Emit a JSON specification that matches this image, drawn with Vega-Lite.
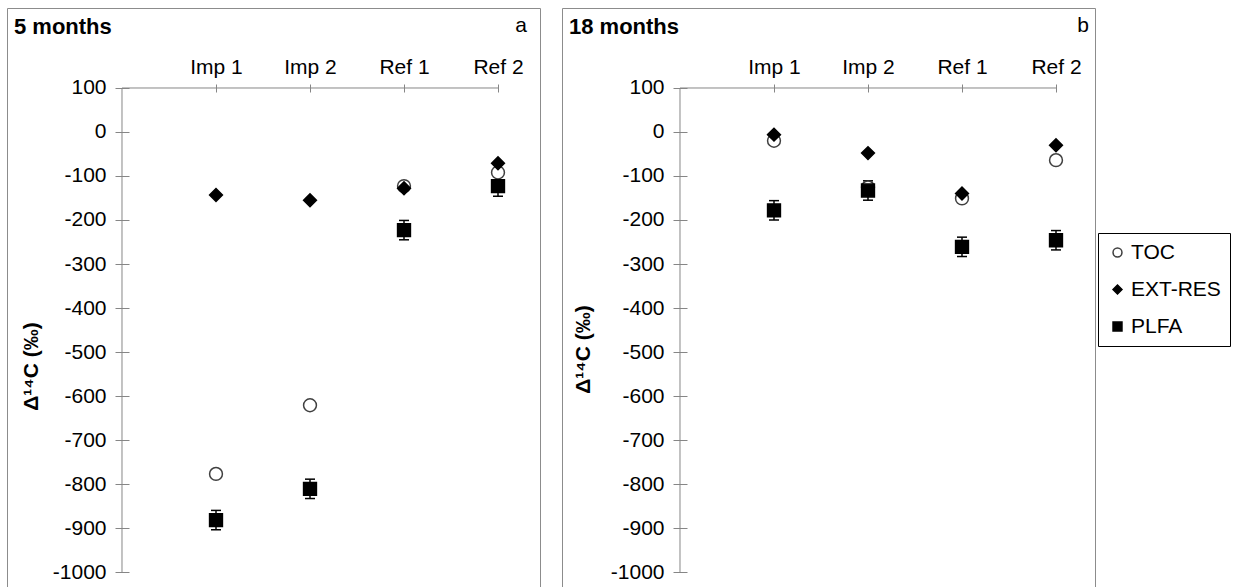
{
  "$schema": "https://vega.github.io/schema/vega-lite/v6.json",
  "padding": {"left": 6, "top": 7, "right": 0, "bottom": 0},
  "background": "white",
  "spacing": 20,
  "resolve": {"scale": {"x": "independent", "y": "independent", "shape": "shared", "fill": "shared", "stroke": "shared"}},
  "config": {
    "font": "Liberation Sans",
    "view": {"stroke": "#8c8c8c", "strokeWidth": 1},
    "axis": {"grid": false, "domain": false, "labelFont": "Liberation Sans", "labelColor": "black", "labelFontSize": 21, "tickColor": "#868686", "tickWidth": 1}
  },
  "datasets": {
    "pts": [
      {"panel": "a", "site": "Imp 1", "pos": 1, "series": "TOC", "value": -777},
      {"panel": "a", "site": "Imp 2", "pos": 2, "series": "TOC", "value": -621},
      {"panel": "a", "site": "Ref 1", "pos": 3, "series": "TOC", "value": -123},
      {"panel": "a", "site": "Ref 2", "pos": 4, "series": "TOC", "value": -92},
      {"panel": "a", "site": "Imp 1", "pos": 1, "series": "EXT-RES", "value": -143},
      {"panel": "a", "site": "Imp 2", "pos": 2, "series": "EXT-RES", "value": -155},
      {"panel": "a", "site": "Ref 1", "pos": 3, "series": "EXT-RES", "value": -128},
      {"panel": "a", "site": "Ref 2", "pos": 4, "series": "EXT-RES", "value": -71},
      {"panel": "a", "site": "Imp 1", "pos": 1, "series": "PLFA", "value": -882, "lo": -904, "hi": -860},
      {"panel": "a", "site": "Imp 2", "pos": 2, "series": "PLFA", "value": -811, "lo": -833, "hi": -789},
      {"panel": "a", "site": "Ref 1", "pos": 3, "series": "PLFA", "value": -223, "lo": -245, "hi": -201},
      {"panel": "a", "site": "Ref 2", "pos": 4, "series": "PLFA", "value": -123, "lo": -146, "hi": -100},
      {"panel": "b", "site": "Imp 1", "pos": 1, "series": "TOC", "value": -20},
      {"panel": "b", "site": "Imp 2", "pos": 2, "series": "TOC", "value": -126},
      {"panel": "b", "site": "Ref 1", "pos": 3, "series": "TOC", "value": -151},
      {"panel": "b", "site": "Ref 2", "pos": 4, "series": "TOC", "value": -64},
      {"panel": "b", "site": "Imp 1", "pos": 1, "series": "EXT-RES", "value": -6},
      {"panel": "b", "site": "Imp 2", "pos": 2, "series": "EXT-RES", "value": -48},
      {"panel": "b", "site": "Ref 1", "pos": 3, "series": "EXT-RES", "value": -140},
      {"panel": "b", "site": "Ref 2", "pos": 4, "series": "EXT-RES", "value": -30},
      {"panel": "b", "site": "Imp 1", "pos": 1, "series": "PLFA", "value": -178, "lo": -200, "hi": -156},
      {"panel": "b", "site": "Imp 2", "pos": 2, "series": "PLFA", "value": -133, "lo": -155, "hi": -111},
      {"panel": "b", "site": "Ref 1", "pos": 3, "series": "PLFA", "value": -261, "lo": -283, "hi": -239},
      {"panel": "b", "site": "Ref 2", "pos": 4, "series": "PLFA", "value": -246, "lo": -268, "hi": -224}
    ],
    "axislines": [
      {"x": 0, "x2": 4, "y": 100, "y2": 100},
      {"x": 0, "x2": 0, "y": -1000, "y2": 100}
    ]
  },
  "hconcat": [
    {
      "width": 533,
      "height": 585,
      "title": {"text": "5 months", "anchor": "start", "frame": "group", "orient": "top", "offset": -31, "dx": 7, "fontSize": 22, "fontWeight": "bold", "font": "Liberation Sans", "color": "black"},
      "layer": [
        {
          "data": {"name": "axislines"},
          "mark": {"type": "rule", "color": "#868686", "strokeWidth": 1},
          "encoding": {
            "x": {"field": "x", "type": "quantitative", "scale": {"domain": [-1.2234, 4.4468], "nice": false, "zero": false},
              "axis": {"orient": "top", "offset": -84, "values": [1, 2, 3, 4], "tickSize": 8, "labelPadding": 7, "title": null,
                "labelExpr": "['', 'Imp 1', 'Imp 2', 'Ref 1', 'Ref 2'][datum.value]"}},
            "x2": {"field": "x2"},
            "y": {"field": "y", "type": "quantitative", "scale": {"domain": [-1047.7, 281.8], "nice": false, "zero": false},
              "axis": {"orient": "left", "offset": -122, "values": [-1000, -900, -800, -700, -600, -500, -400, -300, -200, -100, 0, 100], "tickSize": 14, "labelPadding": 9,
                "labelExpr": "'' + datum.value",
                "title": "Δ¹⁴C (‰)", "titleFontSize": 21, "titleFontWeight": "bold", "titleColor": "black", "titleX": -98, "titleY": 358, "titleAngle": -90, "titleAlign": "center", "titleBaseline": "middle"}},
            "y2": {"field": "y2"}
          }
        },
        {
          "data": {"name": "pts"},
          "transform": [{"filter": "datum.panel === 'a' && datum.series === 'PLFA'"}],
          "mark": {"type": "rule", "color": "black", "strokeWidth": 1.5},
          "encoding": {
            "x": {"field": "pos", "type": "quantitative"},
            "y": {"field": "lo", "type": "quantitative"},
            "y2": {"field": "hi"}
          }
        },
        {
          "data": {"name": "pts"},
          "transform": [{"filter": "datum.panel === 'a' && datum.series === 'PLFA'"}],
          "mark": {"type": "point", "shape": "stroke", "size": 100, "stroke": "black", "strokeWidth": 1.5, "opacity": 1},
          "encoding": {
            "x": {"field": "pos", "type": "quantitative"},
            "y": {"field": "lo", "type": "quantitative"}
          }
        },
        {
          "data": {"name": "pts"},
          "transform": [{"filter": "datum.panel === 'a' && datum.series === 'PLFA'"}],
          "mark": {"type": "point", "shape": "stroke", "size": 100, "stroke": "black", "strokeWidth": 1.5, "opacity": 1},
          "encoding": {
            "x": {"field": "pos", "type": "quantitative"},
            "y": {"field": "hi", "type": "quantitative"}
          }
        },
        {
          "data": {"name": "pts"},
          "transform": [{"filter": "datum.panel === 'a'"}],
          "mark": {"type": "point", "opacity": 1, "size": 165, "strokeWidth": 1.5},
          "encoding": {
            "x": {"field": "pos", "type": "quantitative"},
            "y": {"field": "value", "type": "quantitative"},
            "shape": {"field": "series", "type": "nominal", "scale": {"domain": ["TOC", "EXT-RES", "PLFA"], "range": ["circle", "diamond", "square"]},
              "legend": {"orient": "none", "legendX": 1091, "legendY": 225, "title": null, "strokeColor": "black", "fillColor": "white", "padding": 9, "rowPadding": 15, "labelFontSize": 21, "labelColor": "black", "labelFont": "Liberation Sans", "symbolSize": 80, "symbolStrokeWidth": 1.5, "labelOffset": 3}},
            "fill": {"field": "series", "type": "nominal", "scale": {"domain": ["TOC", "EXT-RES", "PLFA"], "range": ["white", "black", "black"]}},
            "stroke": {"field": "series", "type": "nominal", "scale": {"domain": ["TOC", "EXT-RES", "PLFA"], "range": ["#404040", "black", "black"]}}
          }
        },
        {
          "data": {"values": [{"x": 4.245, "y": 241, "label": "a"}]},
          "mark": {"type": "text", "fontSize": 21, "color": "black", "align": "center", "baseline": "middle"},
          "encoding": {
            "x": {"field": "x", "type": "quantitative"},
            "y": {"field": "y", "type": "quantitative"},
            "text": {"field": "label"}
          }
        }
      ]
    },
    {
      "width": 533,
      "height": 585,
      "title": {"text": "18 months", "anchor": "start", "frame": "group", "orient": "top", "offset": -31, "dx": 7, "fontSize": 22, "fontWeight": "bold", "font": "Liberation Sans", "color": "black"},
      "layer": [
        {
          "data": {"name": "axislines"},
          "mark": {"type": "rule", "color": "#868686", "strokeWidth": 1},
          "encoding": {
            "x": {"field": "x", "type": "quantitative", "scale": {"domain": [-1.2553, 4.4149], "nice": false, "zero": false},
              "axis": {"orient": "top", "offset": -84, "values": [1, 2, 3, 4], "tickSize": 8, "labelPadding": 7, "title": null,
                "labelExpr": "['', 'Imp 1', 'Imp 2', 'Ref 1', 'Ref 2'][datum.value]"}},
            "x2": {"field": "x2"},
            "y": {"field": "y", "type": "quantitative", "scale": {"domain": [-1047.7, 281.8], "nice": false, "zero": false},
              "axis": {"orient": "left", "offset": -125, "values": [-1000, -900, -800, -700, -600, -500, -400, -300, -200, -100, 0, 100], "tickSize": 14, "labelPadding": 9,
                "labelExpr": "'' + datum.value",
                "title": "Δ¹⁴C (‰)", "titleFontSize": 21, "titleFontWeight": "bold", "titleColor": "black", "titleX": -104, "titleY": 341, "titleAngle": -90, "titleAlign": "center", "titleBaseline": "middle"}},
            "y2": {"field": "y2"}
          }
        },
        {
          "data": {"name": "pts"},
          "transform": [{"filter": "datum.panel === 'b' && datum.series === 'PLFA'"}],
          "mark": {"type": "rule", "color": "black", "strokeWidth": 1.5},
          "encoding": {
            "x": {"field": "pos", "type": "quantitative"},
            "y": {"field": "lo", "type": "quantitative"},
            "y2": {"field": "hi"}
          }
        },
        {
          "data": {"name": "pts"},
          "transform": [{"filter": "datum.panel === 'b' && datum.series === 'PLFA'"}],
          "mark": {"type": "point", "shape": "stroke", "size": 100, "stroke": "black", "strokeWidth": 1.5, "opacity": 1},
          "encoding": {
            "x": {"field": "pos", "type": "quantitative"},
            "y": {"field": "lo", "type": "quantitative"}
          }
        },
        {
          "data": {"name": "pts"},
          "transform": [{"filter": "datum.panel === 'b' && datum.series === 'PLFA'"}],
          "mark": {"type": "point", "shape": "stroke", "size": 100, "stroke": "black", "strokeWidth": 1.5, "opacity": 1},
          "encoding": {
            "x": {"field": "pos", "type": "quantitative"},
            "y": {"field": "hi", "type": "quantitative"}
          }
        },
        {
          "data": {"name": "pts"},
          "transform": [{"filter": "datum.panel === 'b'"}],
          "mark": {"type": "point", "opacity": 1, "size": 165, "strokeWidth": 1.5},
          "encoding": {
            "x": {"field": "pos", "type": "quantitative"},
            "y": {"field": "value", "type": "quantitative"},
            "shape": {"field": "series", "type": "nominal", "scale": {"domain": ["TOC", "EXT-RES", "PLFA"], "range": ["circle", "diamond", "square"]}, "legend": null},
            "fill": {"field": "series", "type": "nominal", "scale": {"domain": ["TOC", "EXT-RES", "PLFA"], "range": ["white", "black", "black"]}, "legend": null},
            "stroke": {"field": "series", "type": "nominal", "scale": {"domain": ["TOC", "EXT-RES", "PLFA"], "range": ["#404040", "black", "black"]}, "legend": null}
          }
        },
        {
          "data": {"values": [{"x": 4.287, "y": 241, "label": "b"}]},
          "mark": {"type": "text", "fontSize": 21, "color": "black", "align": "center", "baseline": "middle"},
          "encoding": {
            "x": {"field": "x", "type": "quantitative"},
            "y": {"field": "y", "type": "quantitative"},
            "text": {"field": "label"}
          }
        }
      ]
    }
  ]
}
